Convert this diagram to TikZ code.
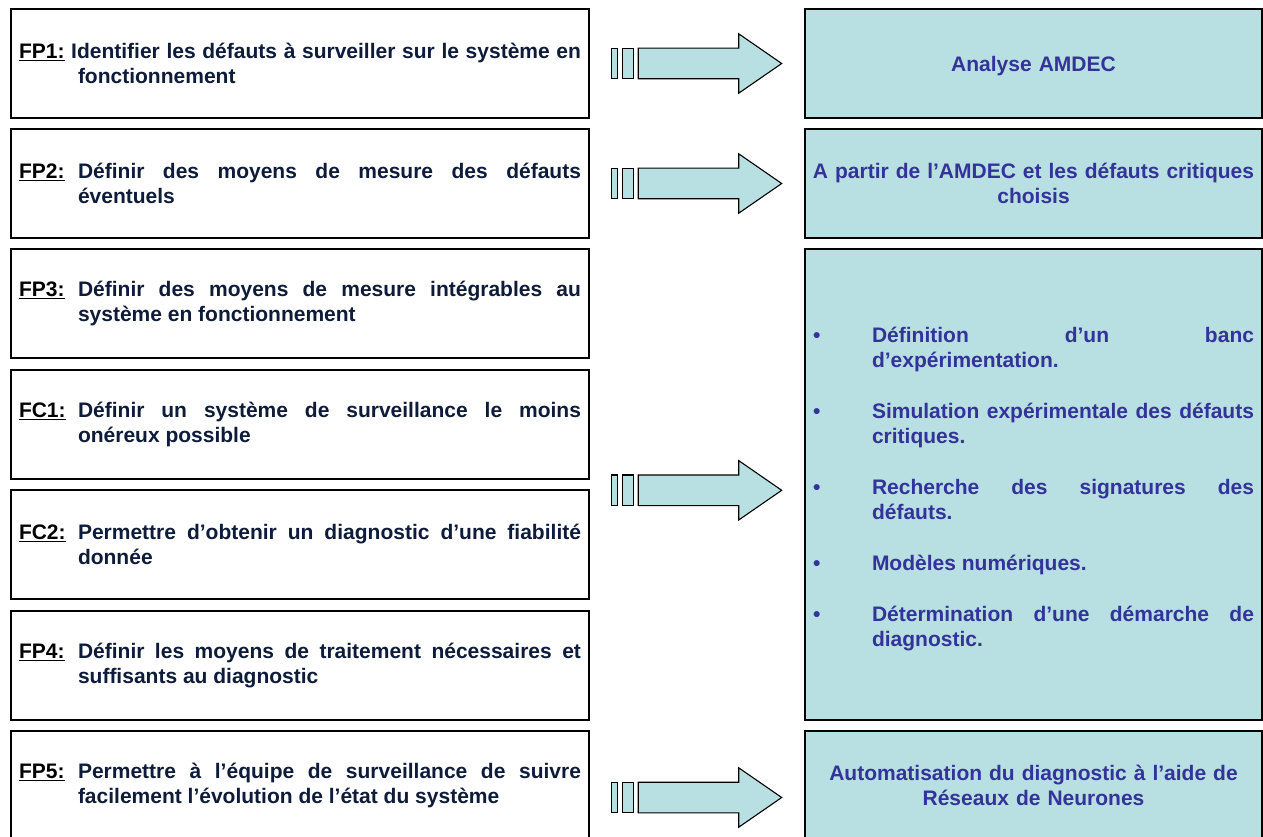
\documentclass[tikz,border=0pt]{standalone}
\usepackage{fontspec}
\setmainfont{Liberation Sans}
\definecolor{boxfill}{RGB}{184,223,226}
\definecolor{leftnavy}{RGB}{14,28,58}
\definecolor{rblue}{RGB}{51,51,153}
\newcommand{\fplabel}[1]{\textcolor{black}{\underline{#1}}}
\newcommand{\fplab}[1]{\makebox[59pt][l]{\fplabel{#1}}}
\newcommand{\hang}{\hangindent=59pt\hangafter=1\noindent}
\newcommand{\bitem}[1]{\par\hangindent=59pt\hangafter=1\noindent\makebox[59pt][l]{•}#1\par}
\newcommand{\bgap}{\vskip 26pt}
\tikzset{
  lbox/.style={draw=black, line width=1.3pt, fill=white, minimum width=578pt,
    minimum height=109pt, text width=562pt, inner xsep=8pt, inner ysep=0pt,
    align=justify, text=leftnavy, font=\fontsize{21}{25}\selectfont\bfseries},
  rbox/.style={draw=black, line width=1.3pt, fill=boxfill, minimum width=457pt,
    minimum height=109pt, text width=443pt, inner xsep=7pt, inner ysep=0pt,
    align=center, text=rblue, font=\fontsize{21}{25}\selectfont\bfseries},
  bigbox/.style={rbox, minimum height=471pt, text width=441pt, inner xsep=8pt, align=justify},
  arrowpart/.style={draw=black, line width=1.1pt, fill=boxfill, line join=miter},
  blockarrow/.pic={
    \path[arrowpart] (0,-15.3) rectangle (6,15.3);
    \path[arrowpart] (11,-15.3) rectangle (21.5,15.3);
    \path[arrowpart] (26.5,-15.3) -- (127,-15.3) -- (127,-29.7) -- (170,0)
       -- (127,29.7) -- (127,15.3) -- (26.5,15.3) -- cycle;
  }
}
\begin{document}
\begin{tikzpicture}[x=1pt,y=-1pt]
\useasboundingbox (0,0) rectangle (1263,837);
% left boxes
\node[lbox] (fp1) at (300,63.5) {\hang\fplabel{FP1:} Identifier les défauts à surveiller sur le système en\linebreak fonctionnement\par};
\node[lbox] (fp2) at (300,183.5) {\hang\fplab{FP2:}Définir des moyens de mesure des défauts\linebreak éventuels\par};
\node[lbox] (fp3) at (300,303.5) {\hang\fplab{FP3:}Définir des moyens de mesure intégrables au\linebreak système en fonctionnement\par};
\node[lbox] (fc1) at (300,424.5) {\hang\fplab{FC1:}Définir un système de surveillance le moins\linebreak onéreux possible\par};
\node[lbox] (fc2) at (300,544.5) {\hang\fplab{FC2:}Permettre d’obtenir un diagnostic d’une fiabilité\linebreak donnée\par};
\node[lbox] (fp4) at (300,665.5) {\hang\fplab{FP4:}Définir les moyens de traitement nécessaires et\linebreak suffisants au diagnostic\par};
\node[lbox] (fp5) at (300,785.5) {\hang\fplab{FP5:}Permettre à l’équipe de surveillance de suivre\linebreak facilement l’évolution de l’état du système\par};
% right boxes
\node[rbox] (r1) at (1033.5,63.5) {\vspace*{-7pt}Analyse AMDEC};
\node[rbox] (r2) at (1033.5,183.5) {A partir de l’AMDEC et les défauts critiques\\ choisis};
\node[bigbox] (r3) at (1033.5,484.5) {\parskip=0pt
\bitem{Définition d’un banc\linebreak d’expérimentation.}\bgap
\bitem{Simulation expérimentale des défauts\linebreak critiques.}\bgap
\bitem{Recherche des signatures des\linebreak défauts.}\bgap
\bitem{Modèles numériques.}\bgap
\bitem{Détermination d’une démarche de\linebreak diagnostic.}};
\node[rbox] (r4) at (1033.5,785.5) {Automatisation du diagnostic à l’aide de\\ Réseaux de Neurones};
% block arrows
\pic at (611.7,63.5) {blockarrow};
\pic at (611.7,183.5) {blockarrow};
\pic at (611.7,490.3) {blockarrow};
\pic at (611.7,797.5) {blockarrow};
\end{tikzpicture}
\end{document}
